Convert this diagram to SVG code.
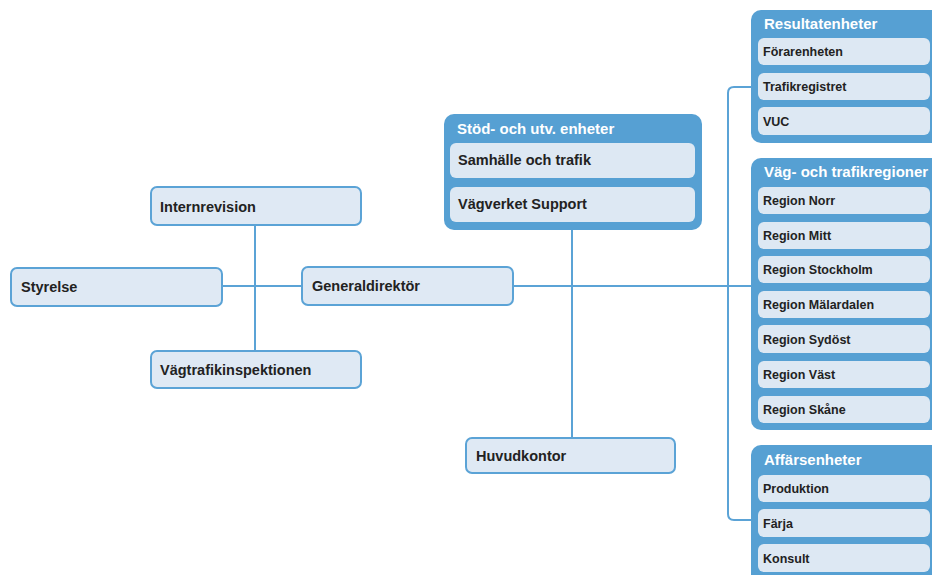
<svg xmlns="http://www.w3.org/2000/svg" width="932" height="575" viewBox="0 0 932 575">
<style>
  .node { fill: #dfe9f4; stroke: #5ba3d6; stroke-width: 2; }
  .grp { fill: #56a0d3; }
  .inner { fill: #dde8f3; }
  .lbl { font-family: "Liberation Sans", Arial, sans-serif; font-weight: bold; font-size: 14.5px; fill: #222; }
  .sm { font-family: "Liberation Sans", Arial, sans-serif; font-weight: bold; font-size: 12.5px; fill: #222; }
  .title { font-family: "Liberation Sans", Arial, sans-serif; font-weight: bold; font-size: 15px; fill: #ffffff; }
  .conn { fill: none; stroke: #5ba3d6; stroke-width: 2; }
</style>
<rect width="932" height="575" fill="#ffffff"/>
<g id="connectors">
  <line class="conn" x1="222" y1="286" x2="302" y2="286"/>
  <line class="conn" x1="255" y1="225" x2="255" y2="351"/>
  <line class="conn" x1="513" y1="286" x2="752" y2="286"/>
  <line class="conn" x1="572" y1="230" x2="572" y2="438"/>
  <path class="conn" d="M752,87 H734 Q728,87 728,93 V514 Q728,520 734,520 H752"/>
</g>
<g id="internrevision">
  <rect class="node" x="151" y="187" width="210" height="38" rx="6"/>
  <text class="lbl" x="160" y="212">Internrevision</text>
</g>
<g id="styrelse">
  <rect class="node" x="11" y="268" width="211" height="38" rx="6"/>
  <text class="lbl" x="21" y="292">Styrelse</text>
</g>
<g id="vagtrafikinspektionen">
  <rect class="node" x="151" y="351" width="210" height="37" rx="6"/>
  <text class="lbl" x="160" y="375">Vägtrafikinspektionen</text>
</g>
<g id="generaldirektor">
  <rect class="node" x="302" y="267" width="211" height="38" rx="6"/>
  <text class="lbl" x="312" y="291">Generaldirektör</text>
</g>
<g id="huvudkontor">
  <rect class="node" x="466" y="438" width="209" height="35" rx="6"/>
  <text class="lbl" x="476" y="461">Huvudkontor</text>
</g>
<g id="stod">
  <rect class="grp" x="444" y="114" width="258" height="116" rx="10"/>
  <text class="title" x="457" y="134">Stöd- och utv. enheter</text>
  <rect class="inner" x="450" y="143" width="245" height="35" rx="6"/>
  <text class="lbl" x="458" y="165">Samhälle och trafik</text>
  <rect class="inner" x="450" y="187" width="245" height="35" rx="6"/>
  <text class="lbl" x="458" y="209">Vägverket Support</text>
</g>
<g id="resultatenheter">
  <rect class="grp" x="751" y="10" width="200" height="133" rx="10"/>
  <text class="title" x="764" y="29">Resultatenheter</text>
  <rect class="inner" x="758" y="38" width="172" height="27" rx="6"/>
  <text class="sm" x="763" y="56">Förarenheten</text>
  <rect class="inner" x="758" y="73" width="172" height="27" rx="6"/>
  <text class="sm" x="763" y="91">Trafikregistret</text>
  <rect class="inner" x="758" y="107" width="172" height="28" rx="6"/>
  <text class="sm" x="763" y="126">VUC</text>
</g>
<g id="vagregioner">
  <rect class="grp" x="751" y="158" width="200" height="272" rx="10"/>
  <text class="title" x="764" y="177">Väg- och trafikregioner</text>
  <rect class="inner" x="758" y="187" width="172" height="27" rx="6"/>
  <text class="sm" x="763" y="205">Region Norr</text>
  <rect class="inner" x="758" y="222" width="172" height="27" rx="6"/>
  <text class="sm" x="763" y="240">Region Mitt</text>
  <rect class="inner" x="758" y="256" width="172" height="27" rx="6"/>
  <text class="sm" x="763" y="274">Region Stockholm</text>
  <rect class="inner" x="758" y="291" width="172" height="27" rx="6"/>
  <text class="sm" x="763" y="309">Region Mälardalen</text>
  <rect class="inner" x="758" y="325" width="172" height="28" rx="6"/>
  <text class="sm" x="763" y="344">Region Sydöst</text>
  <rect class="inner" x="758" y="361" width="172" height="27" rx="6"/>
  <text class="sm" x="763" y="379">Region Väst</text>
  <rect class="inner" x="758" y="396" width="172" height="27" rx="6"/>
  <text class="sm" x="763" y="414">Region Skåne</text>
</g>
<g id="affarsenheter">
  <rect class="grp" x="751" y="445" width="200" height="140" rx="10"/>
  <text class="title" x="764" y="465">Affärsenheter</text>
  <rect class="inner" x="758" y="475" width="172" height="27" rx="6"/>
  <text class="sm" x="763" y="493">Produktion</text>
  <rect class="inner" x="758" y="509" width="172" height="28" rx="6"/>
  <text class="sm" x="763" y="528">Färja</text>
  <rect class="inner" x="758" y="544" width="172" height="28" rx="6"/>
  <text class="sm" x="763" y="563">Konsult</text>
</g>
</svg>
